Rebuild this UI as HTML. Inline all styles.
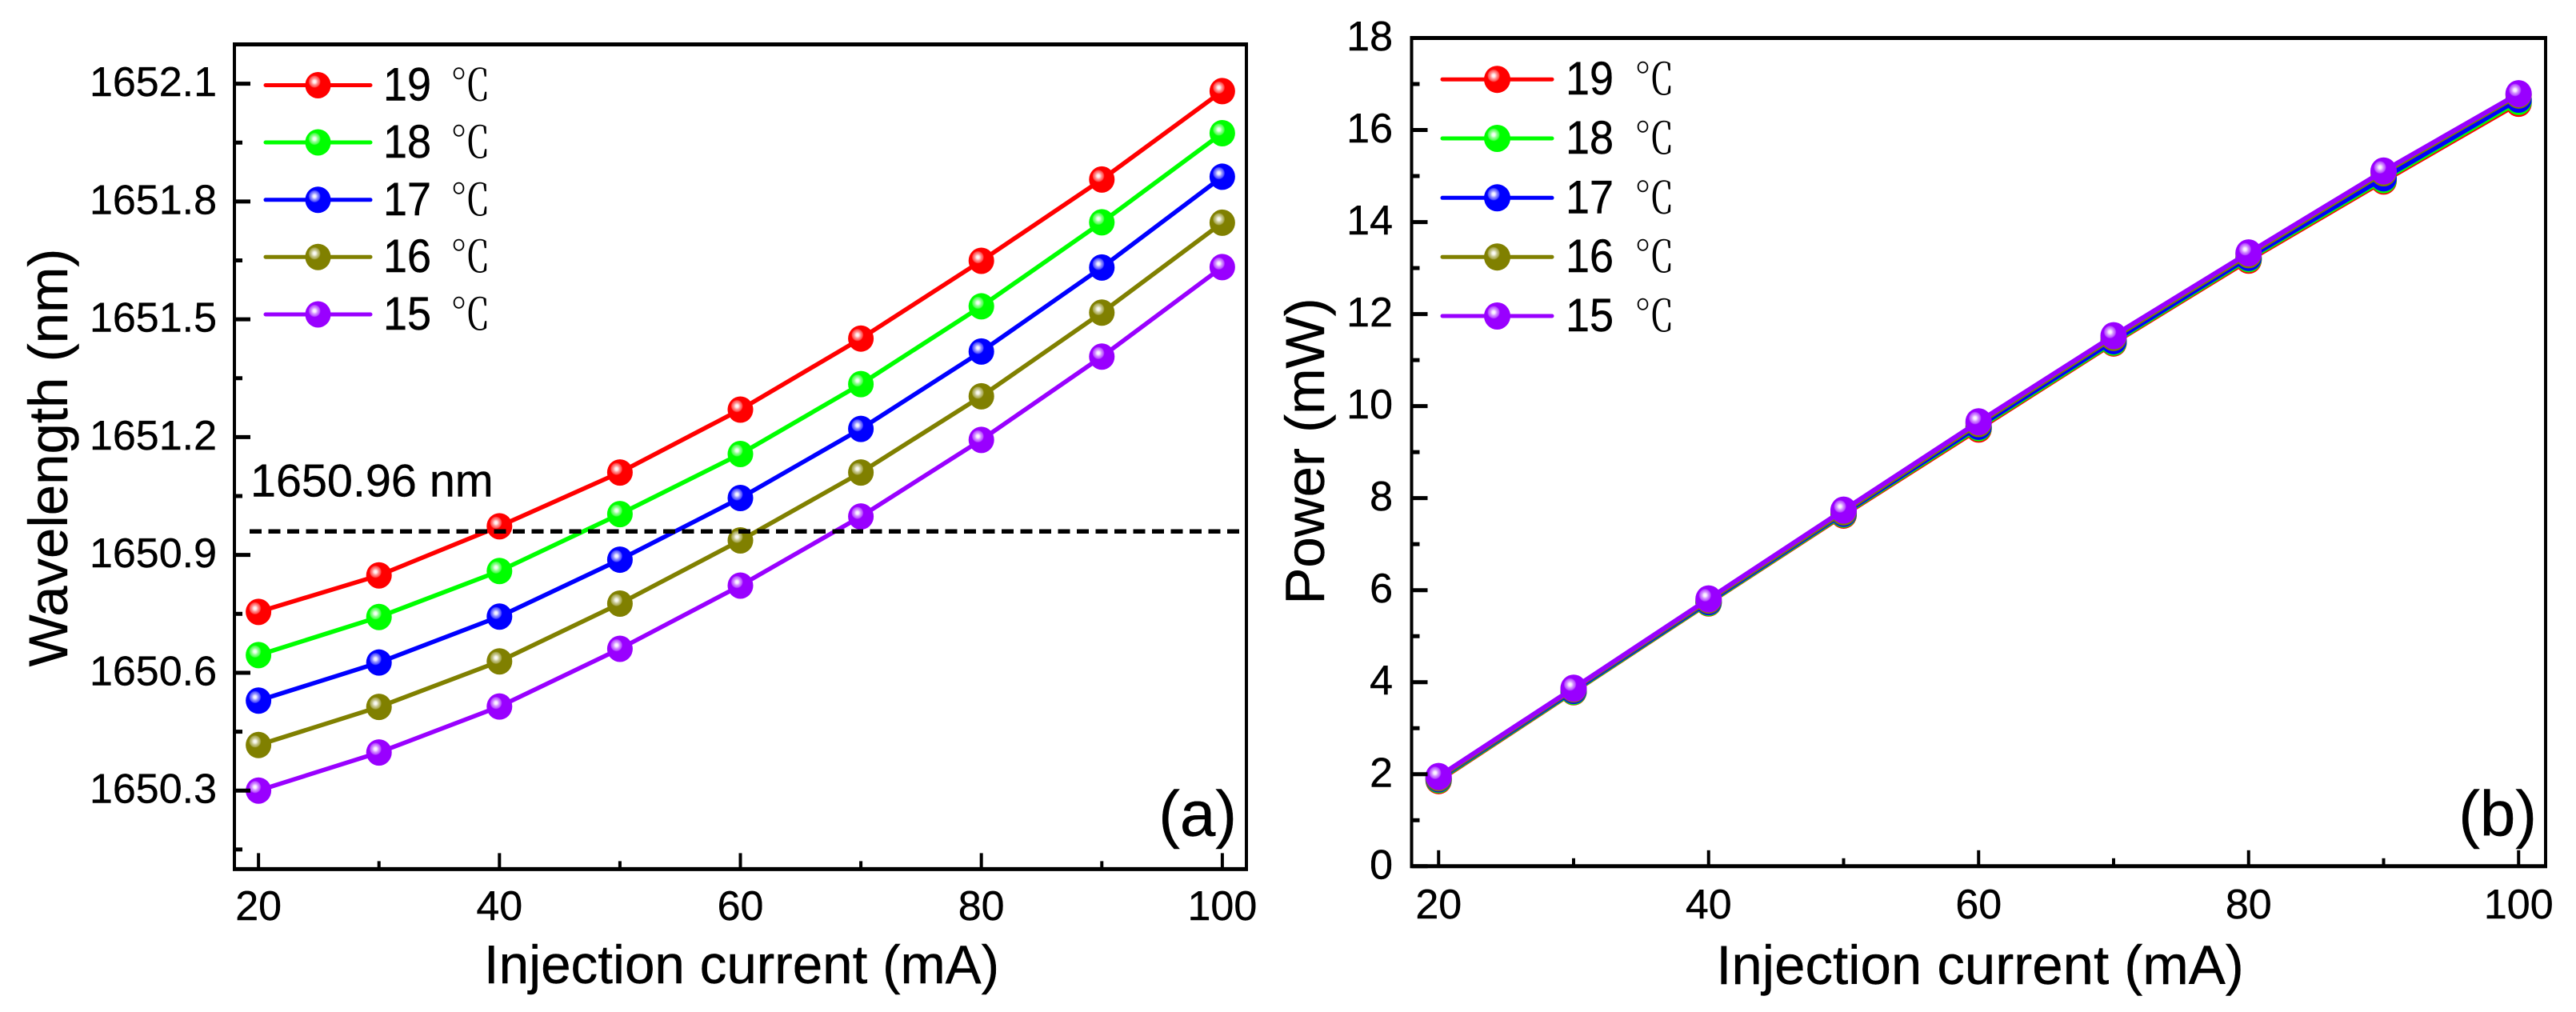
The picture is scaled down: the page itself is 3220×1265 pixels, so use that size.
<!DOCTYPE html>
<html lang="en">
<head>
<meta charset="utf-8">
<title>Wavelength and power versus injection current</title>
<style>
html,body{margin:0;padding:0;background:#fff;width:3220px;height:1265px;overflow:hidden}
svg{display:block}
text{font-family:"Liberation Sans","Noto Sans CJK SC",sans-serif;fill:#000;stroke:#000;stroke-width:0.4}
.cel{font-family:"Noto Serif CJK SC","Liberation Serif",serif;font-weight:400;stroke-width:0}
</style>
</head>
<body>
<svg id="figure" xmlns="http://www.w3.org/2000/svg" width="3220" height="1265" viewBox="0 0 3220 1265">
<defs id="defs"></defs>
<rect x="0" y="0" width="3220" height="1265" fill="#fff"/>
</svg>
<script>
// ---- data ----
const currents = [20,30,40,50,60,70,80,90,100];
const temperatures = ['19','18','17','16','15'];
const seriesColors = ['#ff0000','#00ff00','#0000ff','#808000','#9900ff'];

const wavelength19 = [1650.755,1650.848,1650.973,1651.110,1651.270,1651.451,1651.649,1651.856,1652.081];
const wavelength18 = [1650.645,1650.742,1650.859,1651.004,1651.157,1651.335,1651.533,1651.747,1651.974];
const wavelength17 = [1650.529,1650.626,1650.743,1650.888,1651.045,1651.221,1651.418,1651.632,1651.863];
const wavelength16 = [1650.416,1650.513,1650.629,1650.776,1650.937,1651.110,1651.304,1651.517,1651.746];
const wavelength15 = [1650.300,1650.397,1650.514,1650.661,1650.822,1650.998,1651.193,1651.405,1651.633];

const power19 = [1.86,3.79,5.72,7.63,9.50,11.37,13.17,14.89,16.58];
const power18 = [1.88,3.80,5.73,7.65,9.53,11.39,13.20,14.92,16.62];
const power17 = [1.90,3.82,5.75,7.67,9.56,11.42,13.23,14.96,16.67];
const power16 = [1.92,3.85,5.78,7.70,9.62,11.49,13.29,15.07,16.76];
const power15 = [1.95,3.87,5.81,7.74,9.66,11.53,13.33,15.11,16.79];

const xMajorTicks = [20,40,60,80,100];
const xMinorTicks = [30,50,70,90];
const wavelengthMajorTicks = ['1650.3','1650.6','1650.9','1651.2','1651.5','1651.8','1652.1'];
const wavelengthMinorTicks = [1650.15,1650.45,1650.75,1651.05,1651.35,1651.65,1651.95];
const powerMajorTicks = ['0','2','4','6','8','10','12','14','16','18'];
const powerMinorTicks = [1,3,5,7,9,11,13,15,17];
const referenceWavelength = 1650.96;

// ---- helpers ----
const NS = 'http://www.w3.org/2000/svg';
const svg = document.getElementById('figure');
function make(tag, attrs, parent){
  const e = document.createElementNS(NS, tag);
  for (const k in attrs) e.setAttribute(k, attrs[k]);
  (parent || svg).appendChild(e);
  return e;
}
function mix(hex, amount){
  const n = parseInt(hex.slice(1), 16);
  const c = [(n>>16)&255,(n>>8)&255,n&255].map(v => Math.round(v + (255 - v) * amount));
  return 'rgb(' + c.join(',') + ')';
}
const defs = document.getElementById('defs');
seriesColors.forEach(function(col, i){
  const g = make('radialGradient', {id:'ball' + i, cx:'0.365', cy:'0.365', r:'0.24', fx:'0.365', fy:'0.365'}, defs);
  make('stop', {offset:'0', 'stop-color':'#fff'}, g);
  make('stop', {offset:'0.25', 'stop-color':mix(col,0.9)}, g);
  make('stop', {offset:'0.5', 'stop-color':mix(col,0.6)}, g);
  make('stop', {offset:'0.85', 'stop-color':mix(col,0.3)}, g);
  make('stop', {offset:'1', 'stop-color':col}, g);
});

function drawMarker(group, cx, cy, i, rx, ry){
  const m = make('ellipse', {cx:cx, cy:cy, rx:rx, ry:ry, fill:'url(#ball' + i + ')'}, group);
  
  
  return m;
}

function drawPanel(p){
  const panel = make('g', {});
  
  
  const X = v => p.left + (v - p.xMin) / (p.xMax - p.xMin) * (p.right - p.left);
  const Y = v => p.bottom - (v - p.yMin) / (p.yMax - p.yMin) * (p.bottom - p.top);

  // series
  p.series.forEach(function(values, i){
    const pts = values.map((v, k) => X(currents[k]).toFixed(1) + ',' + Y(v).toFixed(1)).join(' ');
    const line = make('polyline', {points:pts, fill:'none', stroke:seriesColors[i], 'stroke-width':p.lineWidth, 'stroke-linejoin':'round'}, panel);
    
    
    values.forEach(function(v, k){
      drawMarker(panel, X(currents[k]), Y(v), i, p.rx, p.ry);
    });
  });

  // axis frame
  const frame = [
    [p.left - 2, p.top, p.right + 2, p.top, 5, 'top-axis-line'],
    [p.left - 2, p.bottom, p.right + 2, p.bottom, 5, 'x-axis-line'],
    [p.left, p.top, p.left, p.bottom, 4, 'y-axis-line'],
    [p.right, p.top, p.right, p.bottom, 4, 'right-axis-line']
  ];
  frame.forEach(function(f){
    const l = make('line', {x1:f[0], y1:f[1], x2:f[2], y2:f[3], stroke:'#000', 'stroke-width':f[4]}, panel);
    
    
  });

  // x ticks
  xMajorTicks.forEach(function(v){
    const t = make('line', {x1:X(v), x2:X(v), y1:p.bottom, y2:p.bottom - 20, stroke:'#000', 'stroke-width':4}, panel);
    
    
    const lab = make('text', {x:X(v), y:p.xLabelY, 'text-anchor':'middle', 'font-size':p.tickFont}, panel);
    lab.textContent = String(v);
    
    
  });
  xMinorTicks.forEach(function(v){
    const t = make('line', {x1:X(v), x2:X(v), y1:p.bottom, y2:p.bottom - 10, stroke:'#000', 'stroke-width':4}, panel);
    
    
  });

  // y ticks
  p.yMajor.forEach(function(label){
    const v = parseFloat(label);
    const t = make('line', {x1:p.left, x2:p.left + 20, y1:Y(v), y2:Y(v), stroke:'#000', 'stroke-width':5}, panel);
    
    
    const lab = make('text', {x:p.yLabelX, y:Y(v) + 15.5, 'text-anchor':'end', 'font-size':p.tickFont}, panel);
    lab.textContent = label;
    
    
  });
  p.yMinor.forEach(function(v){
    const t = make('line', {x1:p.left, x2:p.left + 10, y1:Y(v), y2:Y(v), stroke:'#000', 'stroke-width':5}, panel);
    
    
  });

  // axis titles
  const xt = make('text', {x:p.xTitleX, y:p.xTitleY, 'text-anchor':'middle', 'font-size':p.xTitleFont}, panel);
  xt.textContent = 'Injection current (mA)';
  
  
  const yt = make('text', {transform:'translate(' + p.yTitleX + ',' + p.yTitleY + ') rotate(-90)', 'text-anchor':'middle', 'font-size':69}, panel);
  yt.textContent = p.yTitle;
  
  

  // legend
  temperatures.forEach(function(t, i){
    const ly = p.legendY[i];
    const entry = make('g', {}, panel);
    
    
    const ll = make('line', {x1:p.legendX1, x2:p.legendX2, y1:ly, y2:ly, stroke:seriesColors[i], 'stroke-width':5, 'stroke-linecap':'round'}, entry);
    
    
    drawMarker(entry, (p.legendX1 + p.legendX2) / 2, ly, i, p.rx, p.ry);
    const lt = make('text', {transform:'translate(' + p.legendTextX + ',' + (ly + 19) + ') scale(1,1.08)', 'font-size':54}, entry);
    lt.textContent = t + ' ';
    
    
    const deg = make('tspan', {x:p.legendUnitDx, 'font-size':50, class:'cel'}, lt);
    deg.textContent = '\u2103';
    
    
  });

  // panel letter
  const letter = make('text', {x:p.letterX, y:1044.5, 'text-anchor':'end', 'font-size':80}, panel);
  letter.textContent = p.letter;
  
  

  // reference line
  if (p.reference !== undefined) {
    const d = make('line', {x1:p.refX1, x2:p.refX2, y1:Y(p.reference), y2:Y(p.reference), stroke:'#000', 'stroke-width':5.5, 'stroke-dasharray':'15 8.5'}, panel);
    
    
    const rt = make('text', {x:313, y:620.5, 'font-size':57.5}, panel);
    rt.textContent = p.reference + ' nm';
    
    
  }
}

drawPanel({
  id:'wavelength', left:293, right:1558, top:55.5, bottom:1086.4,
  xMin:18, xMax:102, yMin:1650.1, yMax:1652.2,
  series:[wavelength19,wavelength18,wavelength17,wavelength16,wavelength15],
  yMajor:wavelengthMajorTicks, yMinor:wavelengthMinorTicks,
  rx:16, ry:16.5, tickFont:52, xTitleFont:67.4, lineWidth:5.5,
  xLabelY:1150, yLabelX:271, xTitleX:927, xTitleY:1229,
  yTitle:'Wavelength (nm)', yTitleX:84, yTitleY:572,
  legendY:[106.5,178,249.8,321.2,393], legendX1:332, legendX2:463,
  legendTextX:479, legendUnitDx:84,
  letter:'(a)', letterX:1546,
  reference:referenceWavelength, refX1:312, refX2:1549
});
drawPanel({
  id:'power', left:1764.5, right:3182, top:47.5, bottom:1082.8,
  xMin:18, xMax:102, yMin:0, yMax:18,
  series:[power19,power18,power17,power16,power15],
  yMajor:powerMajorTicks, yMinor:powerMinorTicks,
  rx:16.5, ry:17, tickFont:52, xTitleFont:69, lineWidth:6,
  xLabelY:1148, yLabelX:1741, xTitleX:2475, xTitleY:1230,
  yTitle:'Power (mW)', yTitleX:1655, yTitleY:564,
  legendY:[99.2,173,247.3,321.2,395], legendX1:1803, legendX2:1940,
  legendTextX:1957, legendUnitDx:86,
  letter:'(b)', letterX:3171
});
</script>
</body>
</html>
